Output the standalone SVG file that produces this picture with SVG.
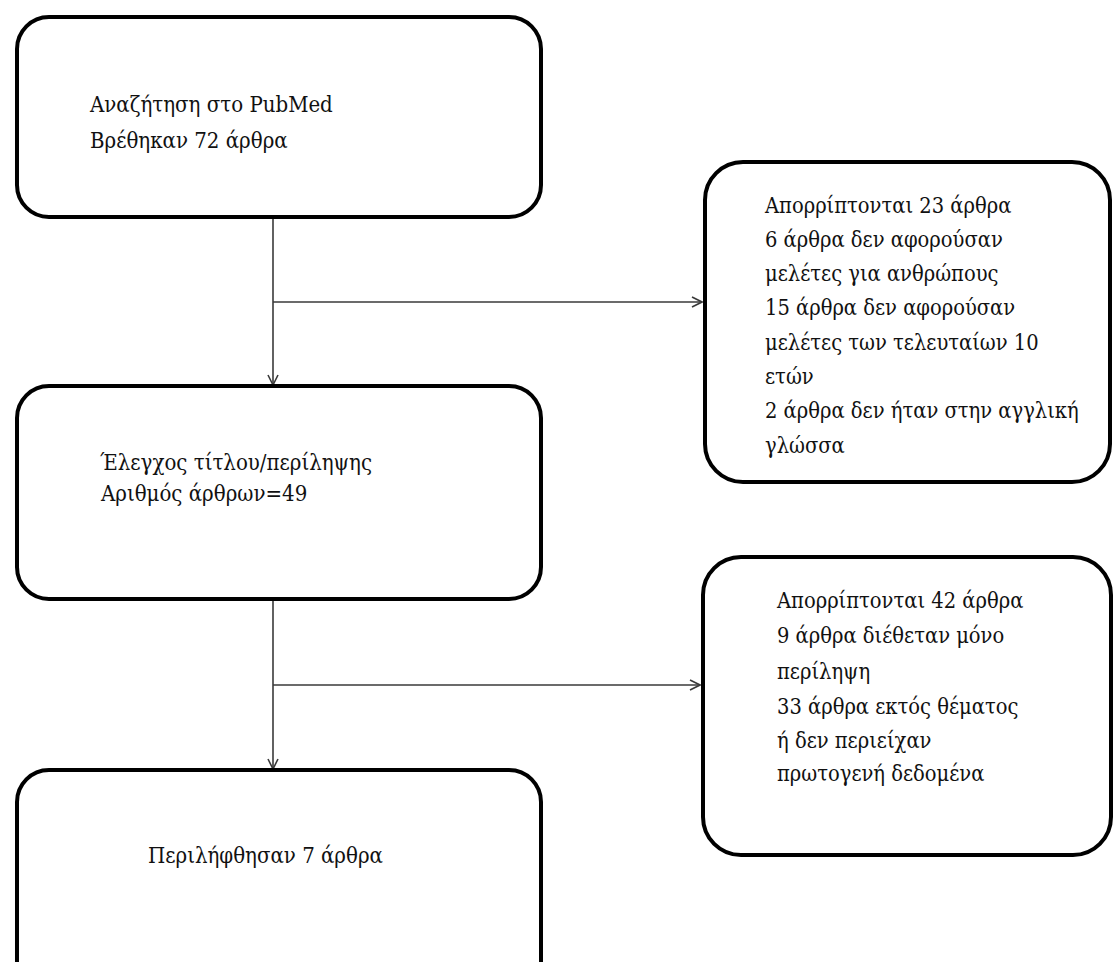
<svg xmlns="http://www.w3.org/2000/svg" width="1113" height="962" viewBox="0 0 1113 962">
<style>
.box{fill:#fff;stroke:#000;stroke-width:4}
.t{font-family:"DejaVu Serif","Liberation Serif",serif;font-stretch:condensed;fill:#111}
.con{fill:none;stroke:#3a3a3a;stroke-width:1.6}
</style>
<defs>
<marker id="ah" viewBox="0 0 12 12" refX="11" refY="6" markerWidth="12" markerHeight="12" markerUnits="userSpaceOnUse" orient="auto">
<path d="M1,1 L11,6 L1,11" fill="none" stroke="#3a3a3a" stroke-width="1.6"/>
</marker>
</defs>
<rect width="1113" height="962" fill="#fff"/>
<g id="connectors">
<line class="con" x1="273" y1="217" x2="273" y2="385" marker-end="url(#ah)"/>
<line class="con" x1="273" y1="302" x2="702" y2="302" marker-end="url(#ah)"/>
<line class="con" x1="273" y1="599" x2="273" y2="769" marker-end="url(#ah)"/>
<line class="con" x1="273" y1="685" x2="700" y2="685" marker-end="url(#ah)"/>
</g>
<g id="n1">
<rect class="box" x="17" y="17" width="524" height="200" rx="32"/>
<text class="t" font-size="22" x="90" y="112">Αναζήτηση στο PubMed</text>
<text class="t" font-size="22" x="90" y="148">Βρέθηκαν 72 άρθρα</text>
</g>
<g id="n2">
<rect class="box" x="705" y="162" width="405" height="320" rx="38"/>
<g class="t" font-size="21.7">
<text x="765" y="213">Απορρίπτονται 23 άρθρα</text>
<text x="765" y="247">6 άρθρα δεν αφορούσαν</text>
<text x="765" y="281">μελέτες για ανθρώπους</text>
<text x="765" y="315">15 άρθρα δεν αφορούσαν</text>
<text x="765" y="350">μελέτες των τελευταίων 10</text>
<text x="765" y="384">ετών</text>
<text x="765" y="418">2 άρθρα δεν ήταν στην αγγλική</text>
<text x="765" y="453">γλώσσα</text>
</g>
</g>
<g id="n3">
<rect class="box" x="17" y="386" width="524" height="213" rx="32"/>
<text class="t" font-size="22" x="100" y="470">Έλεγχος τίτλου/περίληψης</text>
<text class="t" font-size="22" x="101" y="501">Αριθμός άρθρων=49</text>
</g>
<g id="n4">
<rect class="box" x="703" y="557" width="408" height="298" rx="38"/>
<g class="t" font-size="21.7">
<text x="777" y="608">Απορρίπτονται 42 άρθρα</text>
<text x="777" y="643">9 άρθρα διέθεταν μόνο</text>
<text x="777" y="679">περίληψη</text>
<text x="777" y="714">33 άρθρα εκτός θέματος</text>
<text x="777" y="748">ή δεν περιείχαν</text>
<text x="777" y="781">πρωτογενή δεδομένα</text>
</g>
</g>
<g id="n5">
<rect class="box" x="17" y="770" width="524" height="230" rx="32"/>
<text class="t" font-size="22" x="148" y="863">Περιλήφθησαν 7 άρθρα</text>
</g>
</svg>
